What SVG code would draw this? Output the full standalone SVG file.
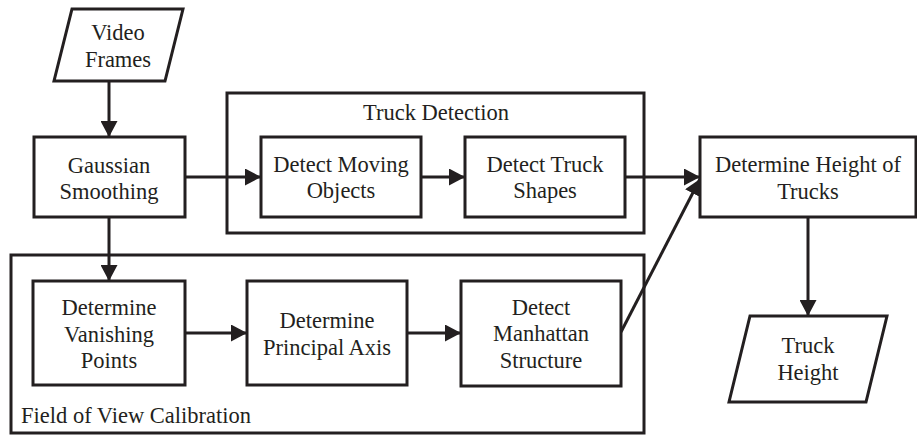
<svg xmlns="http://www.w3.org/2000/svg" width="917" height="435" viewBox="0 0 917 435">
  <defs>
    <marker id="arrow" markerWidth="17" markerHeight="17" refX="16" refY="8.5" orient="auto" markerUnits="userSpaceOnUse">
      <path d="M0,0 L16,8.5 L0,17 Z" fill="#231f20"/>
    </marker>
  </defs>
  <style>
    .box { fill: #fff; stroke: #231f20; stroke-width: 3; }
    .group { fill: none; stroke: #231f20; stroke-width: 3; }
    .edge { fill: none; stroke: #231f20; stroke-width: 3; marker-end: url(#arrow); }
    .t { font-family: 'Liberation Serif', 'Times New Roman', serif; font-size: 22.5px; fill: #231f20; }
  </style>

  <rect width="917" height="435" fill="#fff"/>

  <!-- container groups -->
  <g id="truck-detection">
    <rect class="group" x="227" y="93" width="417" height="140"/>
    <text class="t" x="436" y="120" text-anchor="middle" font-family="Liberation Serif">Truck Detection</text>
  </g>
  <g id="fov-calibration">
    <rect class="group" x="11" y="255" width="633" height="178"/>
    <text class="t" x="21" y="423" font-family="Liberation Serif">Field of View Calibration</text>
  </g>

  <!-- connectors -->
  <g id="connectors">
    <line class="edge" x1="109" y1="81" x2="109" y2="137"/>
    <line class="edge" x1="185" y1="177" x2="261" y2="177"/>
    <line class="edge" x1="421" y1="177" x2="465" y2="177"/>
    <line class="edge" x1="625" y1="177" x2="700" y2="177"/>
    <line class="edge" x1="109" y1="217" x2="109" y2="281"/>
    <line class="edge" x1="185" y1="333" x2="247" y2="333"/>
    <line class="edge" x1="407" y1="333" x2="461" y2="333"/>
    <line class="edge" x1="621" y1="332" x2="700" y2="179"/>
    <line class="edge" x1="808" y1="217" x2="808" y2="316"/>
  </g>

  <!-- nodes: each label is centred on its shape -->
  <g id="video-frames">
    <polygon class="box" points="72,9 183,9 165,81 54,81"/>
    <text class="t" text-anchor="middle" font-family="Liberation Serif" x="118" y="40">Video</text>
    <text class="t" text-anchor="middle" font-family="Liberation Serif" x="118" y="67">Frames</text>
  </g>
  <g id="gaussian-smoothing">
    <rect class="box" x="34" y="137" width="151" height="80"/>
    <text class="t" text-anchor="middle" font-family="Liberation Serif" x="109" y="173">Gaussian</text>
    <text class="t" text-anchor="middle" font-family="Liberation Serif" x="109" y="199">Smoothing</text>
  </g>
  <g id="detect-moving-objects">
    <rect class="box" x="261" y="137" width="160" height="80"/>
    <text class="t" text-anchor="middle" font-family="Liberation Serif" x="341" y="172">Detect Moving</text>
    <text class="t" text-anchor="middle" font-family="Liberation Serif" x="341" y="198">Objects</text>
  </g>
  <g id="detect-truck-shapes">
    <rect class="box" x="465" y="137" width="160" height="80"/>
    <text class="t" text-anchor="middle" font-family="Liberation Serif" x="545" y="172">Detect Truck</text>
    <text class="t" text-anchor="middle" font-family="Liberation Serif" x="545" y="198">Shapes</text>
  </g>
  <g id="determine-height">
    <rect class="box" x="700" y="137" width="216" height="80"/>
    <text class="t" text-anchor="middle" font-family="Liberation Serif" x="808" y="172">Determine Height of</text>
    <text class="t" text-anchor="middle" font-family="Liberation Serif" x="808" y="199">Trucks</text>
  </g>
  <g id="vanishing-points">
    <rect class="box" x="33" y="281" width="152" height="104"/>
    <text class="t" text-anchor="middle" font-family="Liberation Serif" x="109" y="315">Determine</text>
    <text class="t" text-anchor="middle" font-family="Liberation Serif" x="109" y="342">Vanishing</text>
    <text class="t" text-anchor="middle" font-family="Liberation Serif" x="109" y="368">Points</text>
  </g>
  <g id="principal-axis">
    <rect class="box" x="247" y="281" width="160" height="104"/>
    <text class="t" text-anchor="middle" font-family="Liberation Serif" x="327" y="328">Determine</text>
    <text class="t" text-anchor="middle" font-family="Liberation Serif" x="327" y="355">Principal Axis</text>
  </g>
  <g id="manhattan-structure">
    <rect class="box" x="461" y="281" width="160" height="105"/>
    <text class="t" text-anchor="middle" font-family="Liberation Serif" x="541" y="315">Detect</text>
    <text class="t" text-anchor="middle" font-family="Liberation Serif" x="541" y="341">Manhattan</text>
    <text class="t" text-anchor="middle" font-family="Liberation Serif" x="541" y="368">Structure</text>
  </g>
  <g id="truck-height">
    <polygon class="box" points="750,316 887,316 866,402 729,402"/>
    <text class="t" text-anchor="middle" font-family="Liberation Serif" x="808" y="353">Truck</text>
    <text class="t" text-anchor="middle" font-family="Liberation Serif" x="808" y="380">Height</text>
  </g>
</svg>
